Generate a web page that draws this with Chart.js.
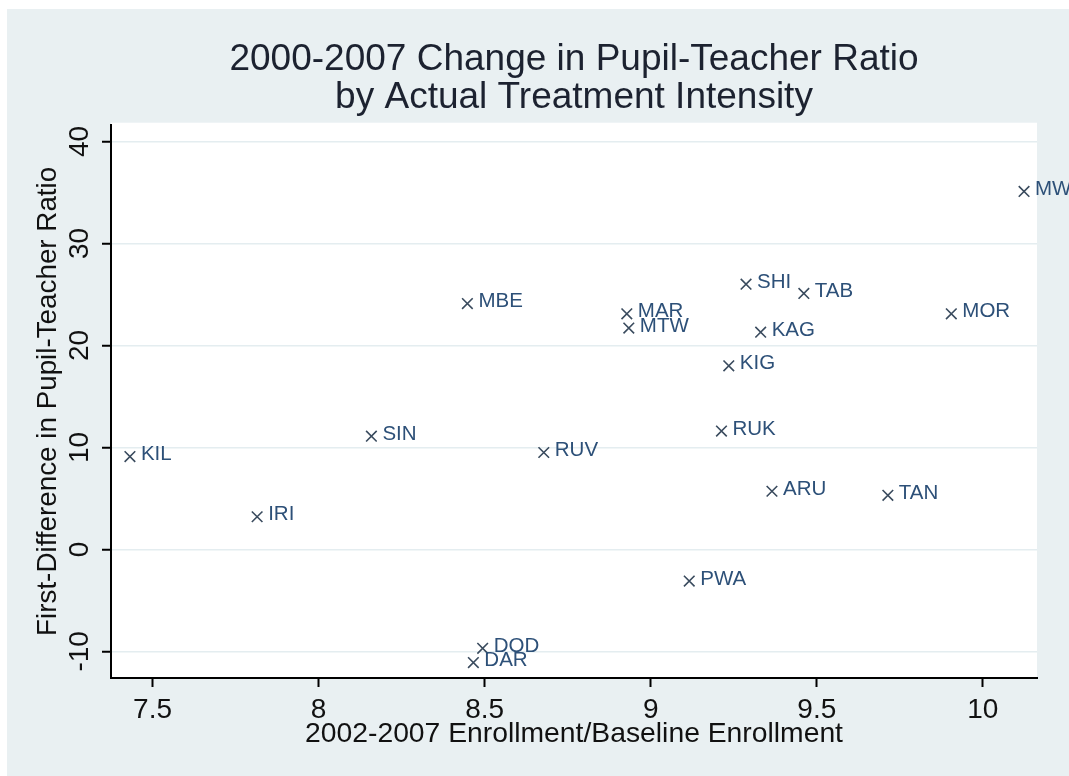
<!DOCTYPE html>
<html>
<head>
<meta charset="utf-8">
<script src="https://cdn.jsdelivr.net/npm/chart.js@4/dist/chart.umd.min.js"></script>
<style>
  html, body { margin: 0; padding: 0; background: #fff; }
  #wrap { width: 1069px; height: 776px; }
</style>
</head>
<body>
<div id="wrap"><canvas id="c" width="1069" height="776"></canvas></div>
<script>
// District codes and values
const districts   = ['KIL', 'IRI', 'SIN', 'MBE', 'DAR', 'DOD', 'RUV', 'MAR', 'MTW', 'PWA',
                     'RUK', 'KIG', 'SHI', 'KAG', 'ARU', 'TAB', 'TAN', 'MOR', 'MWA'];
const enrollRatio = [7.432, 7.815, 8.159, 8.448, 8.466, 8.494, 8.678, 8.928, 8.934, 9.116,
                     9.213, 9.235, 9.287, 9.331, 9.365, 9.461, 9.714, 9.905, 10.124];
const ptrChange   = [9.1, 3.2, 11.1, 24.1, -11.1, -9.7, 9.5, 23.1, 21.7, -3.1,
                     11.6, 18.0, 26.0, 21.3, 5.7, 25.1, 5.3, 23.1, 35.1];

const xTicks = [7.5, 8, 8.5, 9, 9.5, 10];
const yTicks = [-10, 0, 10, 20, 30, 40];

const titleLines = ['2000-2007 Change in Pupil-Teacher Ratio', 'by Actual Treatment Intensity'];
const xTitle = '2002-2007 Enrollment/Baseline Enrollment';
const yTitle = 'First-Difference in Pupil-Teacher Ratio';

const FONT   = '"Liberation Sans", Arial, sans-serif';
const BG     = '#e9f0f2';
const GRID   = '#e4edf0';
const MARKER = '#3a4b5e';
const LABEL  = '#2d5078';

// Hintergrund: weisser Rand oben/links, hellgrauer Grafikbereich, weisse Plotflaeche
const backgroundPlugin = {
  id: 'bg',
  beforeDraw(chart) {
    const { ctx, chartArea: a } = chart;
    ctx.save();
    ctx.fillStyle = '#fff';
    ctx.fillRect(0, 0, chart.width, chart.height);
    ctx.fillStyle = BG;
    ctx.fillRect(7, 9, chart.width - 7, chart.height - 9);
    ctx.fillStyle = '#fff';
    ctx.fillRect(a.left, a.top - 2, a.right - a.left, a.bottom - a.top + 2);
    ctx.restore();
  }
};

// Y-Tick-Beschriftungen senkrecht (wie Stata)
const yTickLabelPlugin = {
  id: 'yTickLabels',
  afterDraw(chart) {
    const { ctx } = chart;
    const y = chart.scales.y;
    ctx.save();
    ctx.font = '28px ' + FONT;
    ctx.fillStyle = '#111';
    ctx.textAlign = 'center';
    ctx.textBaseline = 'middle';
    for (const t of y.ticks) {
      const py = y.getPixelForValue(t.value);
      ctx.save();
      ctx.translate(80, py);
      ctx.rotate(-Math.PI / 2);
      ctx.fillText(String(t.value), 0, 0);
      ctx.restore();
    }
    ctx.restore();
  }
};

// Punktbeschriftungen rechts neben den Markern
const pointLabelPlugin = {
  id: 'pointLabels',
  afterDatasetsDraw(chart) {
    const { ctx } = chart;
    const meta = chart.getDatasetMeta(0);
    ctx.save();
    ctx.font = '20.5px ' + FONT;
    ctx.fillStyle = LABEL;
    ctx.textAlign = 'left';
    ctx.textBaseline = 'middle';
    meta.data.forEach((el, i) => {
      ctx.fillText(districts[i], el.x + 11, el.y - 2);
    });
    ctx.restore();
  }
};

new Chart(document.getElementById('c'), {
  type: 'scatter',
  data: {
    datasets: [{
      data: enrollRatio.map((x, i) => ({ x, y: ptrChange[i] })),
      pointStyle: 'crossRot',
      pointRadius: 7.5,
      pointHoverRadius: 7.5,
      borderColor: MARKER,
      backgroundColor: MARKER,
      borderWidth: 1.6,
    }]
  },
  options: {
    responsive: false,
    animation: false,
    events: [],
    layout: { padding: { left: 0, top: 0, right: 32, bottom: 0 } },
    plugins: {
      legend: { display: false },
      tooltip: { enabled: false },
      title: {
        display: true,
        fullSize: false,
        text: titleLines,
        color: '#1c2230',
        font: { family: FONT, size: 37, weight: 'normal', lineHeight: 1.05 },
        padding: { top: 40, bottom: 7 }
      }
    },
    scales: {
      x: {
        type: 'linear',
        min: 7.375,
        max: 10.163,
        afterBuildTicks: s => { s.ticks = xTicks.map(v => ({ value: v })); },
        afterFit: s => { s.height = 98; },
        border: { display: true, color: '#000', width: 2 },
        grid: { drawOnChartArea: false, drawTicks: true, tickLength: 9, tickColor: '#000', tickWidth: 2 },
        ticks: {
          color: '#111', font: { family: FONT, size: 28 }, padding: 6, maxRotation: 0, autoSkip: false,
          callback: v => String(v)
        },
        title: {
          display: true, text: xTitle, color: '#111',
          font: { family: FONT, size: 28.3 }, padding: { top: 0, bottom: 25 }
        }
      },
      y: {
        type: 'linear',
        min: -12.61,
        max: 41.64,
        afterBuildTicks: s => { s.ticks = yTicks.map(v => ({ value: v })); },
        afterFit: s => { s.width = 111; },
        border: { display: true, color: '#000', width: 2 },
        grid: { color: GRID, lineWidth: 1.5, drawTicks: true, tickLength: 9, tickColor: '#000', tickWidth: 2 },
        ticks: { display: false },
        title: {
          display: true, text: yTitle, color: '#111',
          font: { family: FONT, size: 27.8 }, padding: { top: 32, bottom: 0 }
        }
      }
    }
  },
  plugins: [backgroundPlugin, yTickLabelPlugin, pointLabelPlugin]
});
</script>
</body>
</html>
